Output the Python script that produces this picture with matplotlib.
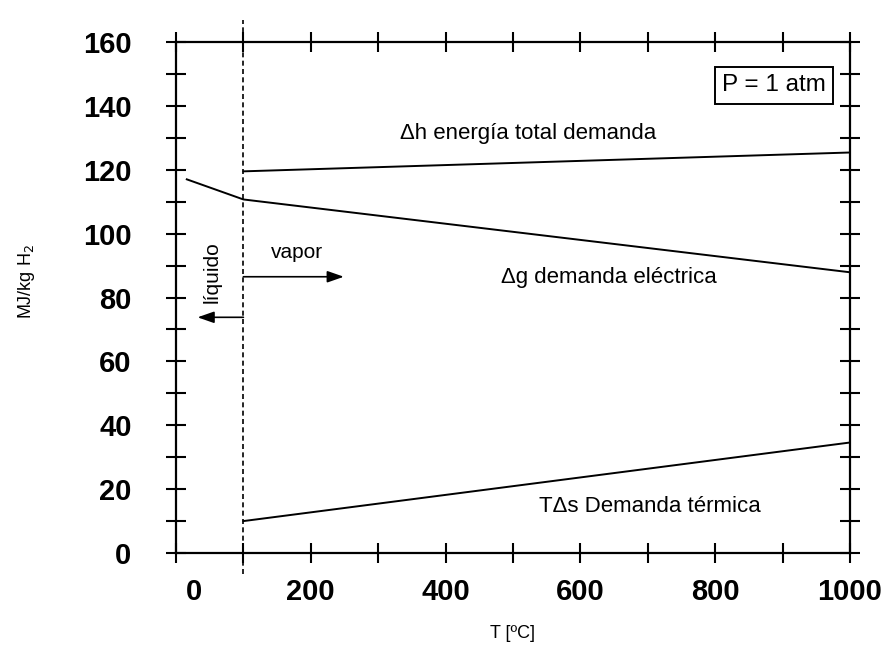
#!/usr/bin/python3

import matplotlib
matplotlib.use('Agg')
from matplotlib import pyplot as plt
from matplotlib import transforms as mtransforms

# valores (MJ/kg H2 vs T en C)
t_dh = [100, 1000]
dh = [119.5, 125.4]

t_dg = [16, 100, 1000]
dg = [117.0, 110.7, 87.9]

t_tds = [100, 1000]
tds = [10.0, 34.6]

x_major = [0, 200, 400, 600, 800, 1000]
x_minor = [100, 300, 500, 700, 900]
y_major = [0, 20, 40, 60, 80, 100, 120, 140, 160]
y_minor = [10, 30, 50, 70, 90, 110, 130, 150]

t_boil = 100


def main():
    plt.rcParams['font.family'] = ['Liberation Sans Narrow', 'Liberation Sans', 'DejaVu Sans']

    fig = plt.figure(figsize=(8.84, 6.45), dpi=100)
    ax = fig.add_axes([0.1991, 0.1426, 0.7624, 0.7923])

    ax.plot(t_dh, dh, color='black', lw=1.4)
    ax.plot(t_dg, dg, color='black', lw=1.4)
    ax.plot(t_tds, tds, color='black', lw=1.4)

    # linea de ebullicion, sale fuera de los ejes
    ax.plot([t_boil, t_boil], [-6.5, 167], color='black', lw=1.2,
            ls=(0, (3, 2)), clip_on=False)

    ax.set_xlim(0, 1000)
    ax.set_ylim(0, 160)

    ax.set_xticks(x_major)
    ax.set_xticks(x_minor, minor=True)
    ax.set_yticks(y_major)
    ax.set_yticks(y_minor, minor=True)
    ax.set_xticklabels([str(v) for v in x_major], fontsize=21, fontweight='bold')
    ax.set_yticklabels([str(v) for v in y_major], fontsize=21, fontweight='bold')

    for which in ['major', 'minor']:
        ax.tick_params(axis='both', which=which, direction='inout', length=14,
                       width=1.5, top=True, right=True, color='black')
    ax.tick_params(axis='x', which='major', pad=11)
    ax.tick_params(axis='y', which='major', pad=25)

    for sp in ax.spines.values():
        sp.set_linewidth(1.6)

    # el "0" del eje x esta corrido a la derecha en el original
    lbl = ax.get_xticklabels()[0]
    lbl.set_transform(lbl.get_transform() + mtransforms.ScaledTranslation(0.18, 0, fig.dpi_scale_trans))

    fig.text(0.030, 1 - 282 / 645, r'MJ/kg H$_2$', rotation=90, fontsize=13,
             ha='center', va='center')
    fig.text(512 / 884, 1 - 634 / 645, 'T [ºC]', fontsize=13, ha='center', va='center')

    ax.text(333, 131.5, 'Δh energía total demanda', fontsize=16, ha='left', va='center')
    ax.text(482, 86.4, 'Δg demanda eléctrica', fontsize=16, ha='left', va='center')
    ax.text(538, 14.5, 'TΔs Demanda térmica', fontsize=16, ha='left', va='center')
    ax.text(0.964, 0.915, 'P = 1 atm', transform=ax.transAxes, fontsize=17.5,
            ha='right', va='center',
            bbox=dict(boxstyle='square,pad=0.3', fc='white', ec='black', lw=1.4))

    ax.text(141, 94.2, 'vapor', fontsize=15, ha='left', va='center')
    ax.text(54, 88, 'líquido', fontsize=15, rotation=90, ha='center', va='center')

    ax.annotate('', xy=(249, 86.5), xytext=(t_boil, 86.5),
                arrowprops=dict(arrowstyle='-|>,head_length=1.0,head_width=0.35',
                                color='black', lw=1.2, shrinkA=0, shrinkB=0))
    ax.annotate('', xy=(32, 73.8), xytext=(t_boil, 73.8),
                arrowprops=dict(arrowstyle='-|>,head_length=1.0,head_width=0.35',
                                color='black', lw=1.2, shrinkA=0, shrinkB=0))

    fig.savefig('out.png', dpi=100)
    plt.close(fig)


if __name__ == "__main__": main()
